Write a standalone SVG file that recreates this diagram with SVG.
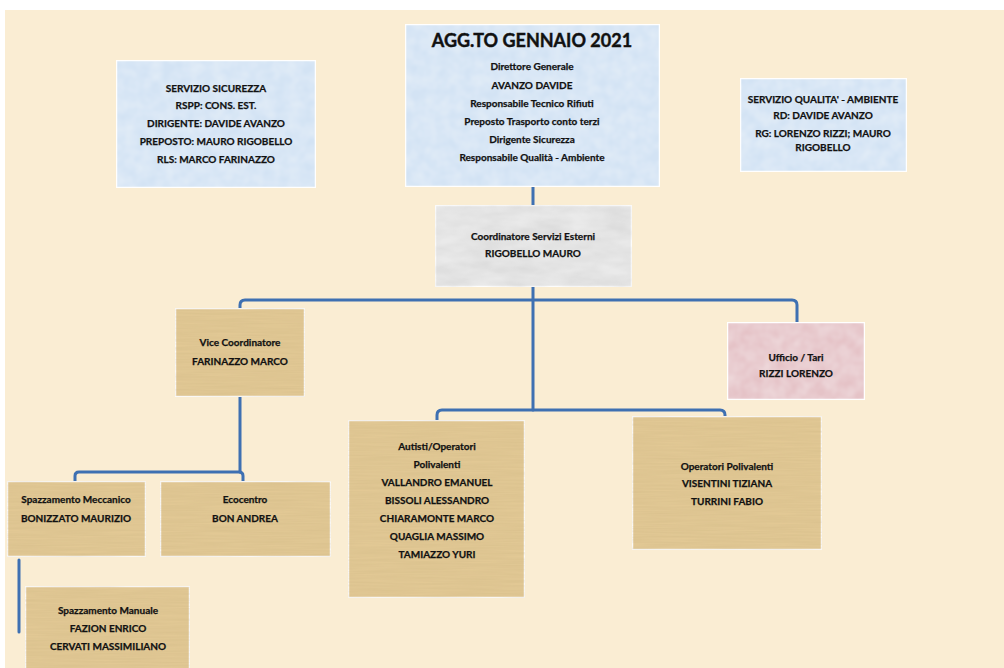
<svg xmlns="http://www.w3.org/2000/svg" width="1004" height="668" viewBox="0 0 1004 668">
<defs>
<filter id="tex" x="0" y="0" width="100%" height="100%">
<feTurbulence type="fractalNoise" baseFrequency="0.02 0.6" numOctaves="2" seed="3" result="n"/>
<feColorMatrix in="n" type="matrix" values="0 0 0 0 0.55  0 0 0 0 0.42  0 0 0 0 0.2  0 0 0 0.35 0" result="c"/>
<feComposite in="c" in2="SourceGraphic" operator="in" result="t"/>
<feMerge><feMergeNode in="SourceGraphic"/><feMergeNode in="t"/></feMerge>
</filter>
<filter id="marble" x="0" y="0" width="100%" height="100%">
<feTurbulence type="fractalNoise" baseFrequency="0.03 0.08" numOctaves="3" seed="7" result="n"/>
<feColorMatrix in="n" type="matrix" values="0 0 0 0 0.5  0 0 0 0 0.5  0 0 0 0 0.5  0 0 0 0.5 -0.1" result="c"/>
<feComposite in="c" in2="SourceGraphic" operator="in" result="t"/>
<feMerge><feMergeNode in="SourceGraphic"/><feMergeNode in="t"/></feMerge>
</filter>
<filter id="blu" x="0" y="0" width="100%" height="100%">
<feTurbulence type="fractalNoise" baseFrequency="0.08" numOctaves="2" seed="2" result="n"/>
<feColorMatrix in="n" type="matrix" values="0 0 0 0 1  0 0 0 0 1  0 0 0 0 1  0 0 0 0.45 -0.1" result="c"/>
<feComposite in="c" in2="SourceGraphic" operator="in" result="t"/>
<feMerge><feMergeNode in="SourceGraphic"/><feMergeNode in="t"/></feMerge>
</filter>
</defs>
<style>
.bg{fill:#FAEDD3}
.box{stroke:#ffffff;stroke-width:2.5}
.blue{fill:#D3E3F4}
.grey{fill:#EAEAEA}
.tan{fill:#E4CA96}
.pink{fill:#E5C3C7}
text{font-family:Lato,"Open Sans","Liberation Sans",sans-serif;font-weight:bold;fill:#111;stroke:#111;stroke-width:0.25;text-anchor:middle;font-size:10px}
.title{font-size:18px;stroke-width:0.4}
.conn path{fill:none;stroke:#3E70B2;stroke-width:3;stroke-linecap:round;stroke-linejoin:round}
</style>
<rect width="1004" height="668" fill="#ffffff"/>
<rect class="bg" x="5" y="10" width="999" height="658"/>

<g class="conn">
<path d="M533 187 V205"/>
<path d="M533 287 V410"/>
<path d="M240 308 V305 Q240 300 245 300 H792 Q797 300 797 305 V322"/>
<path d="M437 420 V415 Q437 410 442 410 H720 Q725 410 725 415 V416"/>
<path d="M240 397 V472"/>
<path d="M75 481 V476 Q75 472 79 472 H239 Q243 472 243 476 V481"/>
<path d="M19 560 V632"/>
</g>

<g id="sicurezza">
<rect class="box blue" x="116" y="60" width="200" height="128" filter="url(#blu)"/>
<text x="216" y="92">SERVIZIO SICUREZZA</text>
<text x="216" y="109">RSPP: CONS. EST.</text>
<text x="216" y="127">DIRIGENTE: DAVIDE AVANZO</text>
<text x="216" y="145">PREPOSTO: MAURO RIGOBELLO</text>
<text x="216" y="163">RLS: MARCO FARINAZZO</text>
</g>

<g id="direttore">
<rect class="box blue" x="405" y="24" width="255" height="163" filter="url(#blu)"/>
<text class="title" x="532" y="47">AGG.TO GENNAIO 2021</text>
<text x="532" y="70">Direttore Generale</text>
<text x="532" y="89">AVANZO DAVIDE</text>
<text x="532" y="107">Responsabile Tecnico Rifiuti</text>
<text x="532" y="125">Preposto Trasporto conto terzi</text>
<text x="532" y="143">Dirigente Sicurezza</text>
<text x="532" y="161">Responsabile Qualità - Ambiente</text>
</g>

<g id="qualita">
<rect class="box blue" x="740" y="78" width="167" height="94" filter="url(#blu)"/>
<text x="823" y="103">SERVIZIO QUALITA' - AMBIENTE</text>
<text x="823" y="119">RD: DAVIDE AVANZO</text>
<text x="823" y="137">RG: LORENZO RIZZI; MAURO</text>
<text x="823" y="151">RIGOBELLO</text>
</g>

<g id="coordinatore">
<rect class="box grey" x="435" y="205" width="197" height="82" filter="url(#marble)"/>
<text x="533" y="240">Coordinatore Servizi Esterni</text>
<text x="533" y="257">RIGOBELLO MAURO</text>
</g>

<g id="vice">
<rect class="box tan" x="175" y="308" width="130" height="89" filter="url(#tex)"/>
<text x="240" y="346">Vice Coordinatore</text>
<text x="240" y="365">FARINAZZO MARCO</text>
</g>

<g id="ufficio">
<rect class="box pink" x="727" y="322" width="138" height="78" filter="url(#blu)"/>
<text x="796" y="361">Ufficio / Tari</text>
<text x="796" y="377">RIZZI LORENZO</text>
</g>

<g id="autisti">
<rect class="box tan" x="348" y="420" width="177" height="178" filter="url(#tex)"/>
<text x="437" y="450">Autisti/Operatori</text>
<text x="437" y="468">Polivalenti</text>
<text x="437" y="486">VALLANDRO EMANUEL</text>
<text x="437" y="504">BISSOLI ALESSANDRO</text>
<text x="437" y="522">CHIARAMONTE MARCO</text>
<text x="437" y="540">QUAGLIA MASSIMO</text>
<text x="437" y="558">TAMIAZZO YURI</text>
</g>

<g id="operatori">
<rect class="box tan" x="632" y="416" width="190" height="134" filter="url(#tex)"/>
<text x="727" y="470">Operatori Polivalenti</text>
<text x="727" y="487">VISENTINI TIZIANA</text>
<text x="727" y="505">TURRINI FABIO</text>
</g>

<g id="meccanico">
<rect class="box tan" x="7" y="481" width="139" height="76" filter="url(#tex)"/>
<text x="76" y="503">Spazzamento Meccanico</text>
<text x="76" y="522">BONIZZATO MAURIZIO</text>
</g>

<g id="ecocentro">
<rect class="box tan" x="160" y="481" width="171" height="76" filter="url(#tex)"/>
<text x="245" y="503">Ecocentro</text>
<text x="245" y="522">BON ANDREA</text>
</g>

<g id="manuale">
<rect class="box tan" x="25" y="586" width="165" height="84" filter="url(#tex)"/>
<text x="108" y="614">Spazzamento Manuale</text>
<text x="108" y="632">FAZION ENRICO</text>
<text x="108" y="650">CERVATI MASSIMILIANO</text>
</g>
</svg>
